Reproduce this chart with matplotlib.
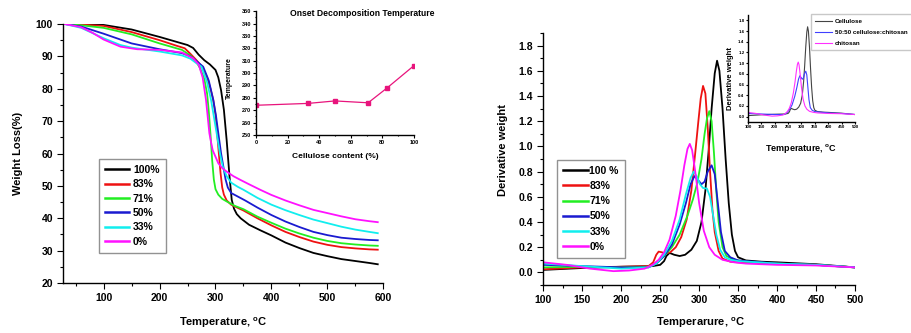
import matplotlib
matplotlib.use('Agg')
import matplotlib.pyplot as plt
from matplotlib.ticker import MultipleLocator

plt.rcParams['font.family'] = ['Liberation Sans', 'DejaVu Sans']
plt.rcParams['font.weight'] = 'bold'

# ---- TGA data (left panel) ----
labels_tga = ['100%', '83%', '71%', '50%', '33%', '0%']
colors = ['black', '#ee1111', '#22ee22', '#1a1ad0', '#11eeee', '#ff11ff']

t_100 = [30, 60, 100, 150, 200, 230, 250, 260, 270, 280, 290, 300, 305, 310, 315, 320, 325, 329, 333, 338, 345, 360, 380, 400, 425, 450, 475, 500, 525, 550, 575, 590]
w_100 = [100, 99.9, 99.7, 98.3, 96, 94.5, 93.5, 92.6, 90.5, 88.8, 87.5, 85.8, 83.5, 79.5, 73.5, 64, 53, 45.7, 43, 41.3, 40, 38, 36.3, 34.7, 32.5, 30.8, 29.3, 28.3, 27.4, 26.8, 26.2, 25.8]
t_83 = [30, 60, 100, 150, 200, 230, 245, 255, 265, 276, 285, 291, 296, 300, 303, 306, 309, 312, 315, 320, 328, 340, 350, 375, 400, 425, 450, 475, 500, 525, 550, 575, 590]
w_83 = [100, 99.8, 99.4, 97.5, 95, 93.3, 92.5, 90.8, 89, 86.8, 83.5, 80, 76.5, 72, 66, 60, 54, 49.5, 47.3, 45.5, 44.2, 43.2, 42.4, 40, 37.8, 35.8, 34.2, 32.8, 31.8, 31.1, 30.7, 30.4, 30.3]
t_71 = [30, 60, 100, 150, 200, 240, 255, 265, 272, 280, 285, 288, 291, 294, 297, 300, 305, 312, 320, 335, 350, 375, 400, 425, 450, 475, 500, 525, 550, 575, 590]
w_71 = [100, 99.6, 98.8, 96.8, 94, 92, 90.3, 88.5, 86.5, 83, 78.5, 73, 66, 58, 52, 49, 47.3, 46, 45.2, 43.8, 42.8, 40.5, 38.6, 36.8, 35.3, 34, 33, 32.3, 31.9, 31.6, 31.5]
t_50 = [30, 60, 100, 150, 200, 240, 255, 265, 278, 288, 296, 301, 305, 310, 314, 318, 322, 328, 340, 353, 375, 400, 425, 450, 475, 500, 525, 550, 575, 590]
w_50 = [100, 99.2, 97, 94, 92.2, 91, 90, 88.7, 86.8, 82.5, 76.6, 71.5, 66.3, 60, 56, 52, 49.5, 47.8, 46.7, 45.5, 43.3, 41, 39, 37.3, 35.8, 34.8, 34, 33.6, 33.3, 33.2]
t_33 = [30, 60, 100, 130, 150, 200, 240, 255, 265, 275, 285, 292, 297, 302, 308, 313, 320, 328, 340, 350, 375, 400, 425, 450, 475, 500, 525, 550, 575, 590]
w_33 = [100, 98.8, 95.6, 93.5, 92.7, 91.5, 90.3, 89.3, 88, 86.8, 82, 76.6, 71.5, 66.3, 60, 56, 53, 51, 49.7, 48.8, 46.3, 44.2, 42.5, 41, 39.6, 38.5, 37.4, 36.5, 35.8, 35.4]
t_0 = [30, 60, 80, 100, 130, 160, 200, 240, 260, 270, 277, 283, 286, 289, 292, 295, 300, 305, 312, 320, 332, 344, 360, 380, 400, 425, 450, 475, 500, 525, 550, 575, 590]
w_0 = [100, 99, 97.3, 95.2, 93, 92.2, 92, 91.2, 89.4, 87.5, 83.5, 76.6, 71.5, 66.3, 63.5, 61, 59, 57, 55.5, 54.4, 53, 51.9, 50.5, 48.8, 47.2, 45.5, 44, 42.6, 41.6, 40.6, 39.7, 39.1, 38.8]

# onset inset
cell_content = [0, 33, 50, 71, 83, 100]
onset_temp = [274, 275.5, 277.5, 276, 288, 306]

# ---- DTG data (right panel) ----
labels_dtg = ['100 %', '83%', '71%', '50%', '33%', '0%']
d_t_100 = [100, 150, 200, 240, 250, 255, 258, 262, 268, 275, 282, 290, 297, 303, 308, 312, 316, 320, 323, 326, 330, 334, 338, 342, 346, 350, 360, 380, 400, 450, 500]
d_v_100 = [0.02, 0.035, 0.045, 0.05, 0.06, 0.09, 0.13, 0.155, 0.14, 0.13, 0.14, 0.18, 0.25, 0.4, 0.65, 0.95, 1.3, 1.58, 1.68, 1.6, 1.3, 0.9, 0.55, 0.3, 0.17, 0.12, 0.095, 0.085, 0.08, 0.065, 0.04]
d_t_83 = [100, 150, 200, 235, 241, 245, 248, 252, 257, 263, 270, 277, 284, 290, 295, 299, 302, 305, 308, 311, 314, 317, 320, 325, 330, 340, 350, 400, 450, 500]
d_v_83 = [0.025, 0.04, 0.045, 0.05, 0.08, 0.14, 0.165, 0.16, 0.15, 0.16, 0.2, 0.28, 0.42, 0.65, 0.95, 1.2, 1.38, 1.48, 1.42, 1.15, 0.8, 0.5, 0.32, 0.17, 0.11, 0.085, 0.08, 0.07, 0.06, 0.04]
d_t_71 = [100, 150, 200, 235, 245, 255, 265, 275, 285, 292, 298, 303, 307, 310, 313, 316, 319, 322, 325, 330, 335, 345, 360, 400, 450, 500]
d_v_71 = [0.04, 0.045, 0.04, 0.045, 0.07, 0.13, 0.2, 0.3, 0.45, 0.58, 0.72, 0.9, 1.1, 1.22, 1.28, 1.2, 0.95, 0.65, 0.4, 0.2, 0.13, 0.1, 0.085, 0.07, 0.06, 0.04]
d_t_50 = [100, 150, 200, 235, 245, 255, 265, 275, 283, 289, 294, 299, 303, 307, 311, 316, 320, 324, 328, 333, 340, 350, 400, 450, 500]
d_v_50 = [0.06, 0.05, 0.04, 0.04, 0.07, 0.13, 0.22, 0.38, 0.55, 0.7, 0.765, 0.73, 0.70, 0.72, 0.8, 0.85, 0.78, 0.55, 0.32, 0.17, 0.12, 0.095, 0.07, 0.06, 0.04]
d_t_33 = [100, 150, 200, 235, 245, 255, 265, 275, 283, 289, 293, 297, 301, 305, 310, 314, 318, 322, 327, 333, 340, 350, 400, 450, 500]
d_v_33 = [0.07, 0.05, 0.03, 0.04, 0.07, 0.14, 0.25, 0.42, 0.62, 0.75, 0.8, 0.76, 0.7, 0.67, 0.665, 0.6, 0.45, 0.3, 0.18, 0.12, 0.1, 0.09, 0.07, 0.06, 0.04]
d_t_0 = [100, 130, 160, 190, 210, 230, 240, 248, 255, 262, 270, 276, 281, 285, 288, 291, 295, 300, 306, 313, 320, 330, 345, 360, 400, 450, 500]
d_v_0 = [0.08, 0.06, 0.03, 0.01, 0.015, 0.03, 0.06, 0.1, 0.16, 0.26, 0.45, 0.65, 0.85, 0.98, 1.02, 0.97, 0.8, 0.55, 0.33, 0.2, 0.14, 0.1, 0.08, 0.07, 0.06, 0.055, 0.04]

inset_labels = ['Cellulose', '50:50 cellulose:chitosan', 'chitosan']
inset_colors = ['#444444', '#4040ff', '#ff30ff']

tga_t = [t_100, t_83, t_71, t_50, t_33, t_0]
tga_w = [w_100, w_83, w_71, w_50, w_33, w_0]
dtg_t = [d_t_100, d_t_83, d_t_71, d_t_50, d_t_33, d_t_0]
dtg_v = [d_v_100, d_v_83, d_v_71, d_v_50, d_v_33, d_v_0]


def style(ax, fs):
    for s in ['top', 'right']:
        ax.spines[s].set_visible(False)
    for s in ['left', 'bottom']:
        ax.spines[s].set_linewidth(1.0)
    ax.tick_params(which='both', direction='out', labelsize=fs, width=0.8)
    for lab in ax.get_xticklabels() + ax.get_yticklabels():
        lab.set_fontweight('bold')


fig = plt.figure(figsize=(9.11, 3.33), dpi=100)

# left main
ax1 = fig.add_axes([0.0695, 0.150, 0.3513, 0.778])
for t, w, c, l in zip(tga_t, tga_w, colors, labels_tga):
    ax1.plot(t, w, color=c, lw=1.3, label=l)
ax1.set_xlim(28, 600)
ax1.set_ylim(20, 100)
ax1.xaxis.set_major_locator(MultipleLocator(100))
ax1.xaxis.set_minor_locator(MultipleLocator(50))
ax1.yaxis.set_major_locator(MultipleLocator(10))
ax1.yaxis.set_minor_locator(MultipleLocator(5))
ax1.tick_params(which='major', length=4)
ax1.tick_params(which='minor', length=2.5)
style(ax1, 7.5)
ax1.set_xlabel('Temperature, $^{\\mathregular{o}}$C', fontsize=8, fontweight='bold')
ax1.set_ylabel('Weight Loss(%)', fontsize=8, fontweight='bold')
ax1.xaxis.set_label_coords(0.5, -0.127)
ax1.yaxis.set_label_coords(-0.125, 0.5)
leg = ax1.legend(loc='lower left', bbox_to_anchor=(0.11, 0.116), borderaxespad=0,
                 fancybox=False, edgecolor='#777777', handlelength=2.3,
                 prop={'weight': 'bold', 'size': 7.5}, labelspacing=0.42,
                 handletextpad=0.4, borderpad=0.6)
leg.get_frame().set_linewidth(1.0)
for h in leg.get_lines():
    h.set_linewidth(1.8)

# left inset
ax2 = fig.add_axes([0.281, 0.5946, 0.1734, 0.372])
ax2.plot(cell_content, onset_temp, color='#e8147c', lw=0.9, marker='s', ms=3)
ax2.set_xlim(0, 100)
ax2.set_ylim(250, 350)
ax2.xaxis.set_major_locator(MultipleLocator(20))
ax2.xaxis.set_minor_locator(MultipleLocator(10))
ax2.yaxis.set_major_locator(MultipleLocator(10))
ax2.yaxis.set_minor_locator(MultipleLocator(5))
ax2.tick_params(which='major', length=2, pad=1.5)
ax2.tick_params(which='minor', length=1)
style(ax2, 4)
ax2.text(0.67, 0.984, 'Onset Decomposition Temperature', transform=ax2.transAxes,
         ha='center', va='center', fontsize=6.2, fontweight='bold')
ax2.set_xlabel('Cellulose content (%)', fontsize=6, fontweight='bold')
ax2.set_ylabel('Temperature', fontsize=5, fontweight='bold')
ax2.xaxis.set_label_coords(0.5, -0.145)
ax2.yaxis.set_label_coords(-0.146, 0.46)

# right main
ax3 = fig.add_axes([0.5964, 0.1441, 0.3421, 0.7568])
for t, v, c, l in zip(dtg_t, dtg_v, colors, labels_dtg):
    ax3.plot(t, v, color=c, lw=1.3, label=l)
ax3.set_xlim(100, 500)
ax3.set_ylim(-0.1, 1.9)
ax3.xaxis.set_major_locator(MultipleLocator(50))
ax3.xaxis.set_minor_locator(MultipleLocator(25))
ax3.yaxis.set_major_locator(MultipleLocator(0.2))
ax3.yaxis.set_minor_locator(MultipleLocator(0.1))
ax3.yaxis.set_major_formatter(plt.FormatStrFormatter('%.1f'))
ax3.tick_params(which='major', length=4)
ax3.tick_params(which='minor', length=2.5)
style(ax3, 7.5)
ax3.set_xlabel('Temperarure, $^{\\mathregular{o}}$C', fontsize=8, fontweight='bold')
ax3.set_ylabel('Derivative weight', fontsize=8, fontweight='bold')
ax3.xaxis.set_label_coords(0.503, -0.123)
ax3.yaxis.set_label_coords(-0.113, 0.536)
leg3 = ax3.legend(loc='lower left', bbox_to_anchor=(0.044, 0.107), borderaxespad=0,
                  fancybox=False, edgecolor='#777777', handlelength=2.4,
                  prop={'weight': 'bold', 'size': 7.5}, labelspacing=0.5,
                  handletextpad=0.1, borderpad=0.6)
leg3.get_frame().set_linewidth(1.0)
for h in leg3.get_lines():
    h.set_linewidth(1.8)

# right inset
ax4 = fig.add_axes([0.821, 0.6336, 0.1175, 0.3213])
for i, k in enumerate([0, 3, 5]):
    ax4.plot(dtg_t[k], dtg_v[k], color=inset_colors[i], lw=0.8, label=inset_labels[i])
ax4.set_xlim(100, 500)
ax4.set_ylim(-0.1, 1.9)
ax4.xaxis.set_major_locator(MultipleLocator(50))
ax4.yaxis.set_major_locator(MultipleLocator(0.2))
ax4.yaxis.set_major_formatter(plt.FormatStrFormatter('%.1f'))
ax4.tick_params(which='major', length=1.5, pad=1)
style(ax4, 3.2)
ax4.set_xlabel('Temperature, $^{\\mathregular{o}}$C', fontsize=6.5, fontweight='bold')
ax4.set_ylabel('Derivative weight', fontsize=5.5, fontweight='bold')
ax4.xaxis.set_label_coords(0.5, -0.187)
ax4.yaxis.set_label_coords(-0.13, 0.41)
leg4 = ax4.legend(loc='upper left', bbox_to_anchor=(0.59, 1.01), borderaxespad=0,
                  fancybox=False, edgecolor='#bbbbbb', handlelength=2.6,
                  prop={'weight': 'bold', 'size': 4.5}, labelspacing=0.9,
                  handletextpad=0.5, borderpad=0.7)

fig.savefig('out.png', dpi=100)
